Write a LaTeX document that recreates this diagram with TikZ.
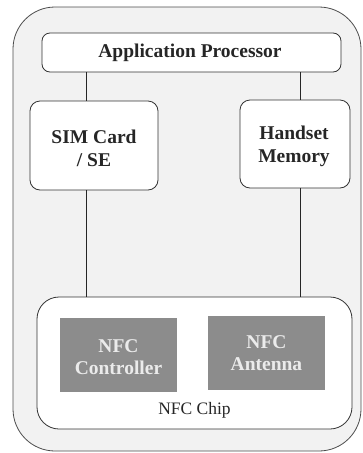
\documentclass[tikz,border=0pt]{standalone}
\usepackage{fontspec}
\setmainfont{Liberation Serif}[BoldFont={Liberation Serif Bold}]
\begin{document}
\begin{tikzpicture}[x=1pt,y=-1pt,
  box/.style={draw=black!80, line width=0.8pt, fill=white, rounded corners=#1},
  box/.default=8pt,
  blk/.style={fill=black!45, draw=none},
  link/.style={draw=black!85, line width=0.9pt},
  lbl/.style={font=\bfseries\fontsize{19.5}{23}\selectfont, align=center, text=black!85},
  inner/.style={font=\bfseries\fontsize{19.5}{22}\selectfont, align=center, text=black!8}
]
\useasboundingbox (0,0) rectangle (362,453);
% phone outline
\draw[fill=black!5, draw=black!70, line width=0.8pt, rounded corners=42pt] (13,7) rectangle (361,451);
% main blocks
\draw[box] (42,33) rectangle (341,72);
\node[font=\bfseries\fontsize{19.5}{22}\selectfont, text=black!85] (ap) at (190,52.5) {Application Processor};
\coordinate (apL) at (86,72);
\coordinate (apR) at (300,72);
\draw[box=10pt] (30,101) rectangle (158,190);
\node[lbl] (sim) at (94,148) {SIM Card\\/ SE};
\draw[box=10pt] (240,100) rectangle (350,188);
\node[lbl] (mem) at (294,146) {Handset\\Memory};
\draw[box=22pt] (37,297) rectangle (352,429);
\node[font=\fontsize{17.5}{20}\selectfont, text=black!85] (chip) at (194.5,410) {NFC Chip};
\fill[blk] (60,318) rectangle (177,392);
\node[inner] (ctl) at (118.5,357) {NFC\\Controller};
\fill[blk] (208,316) rectangle (325,390);
\node[inner] (ant) at (266.5,353) {NFC\\Antenna};
% connectors
\coordinate (simT) at (86,101);
\coordinate (simB) at (86,190);
\coordinate (memT) at (300,100);
\coordinate (memB) at (300,188);
\coordinate (chipL) at (86,297);
\coordinate (chipR) at (300,297);
\draw[link] (apL) -- (simT);
\draw[link] (simB) -- (chipL);
\draw[link] (apR) -- (memT);
\draw[link] (memB) -- (chipR);
\end{tikzpicture}
\end{document}
